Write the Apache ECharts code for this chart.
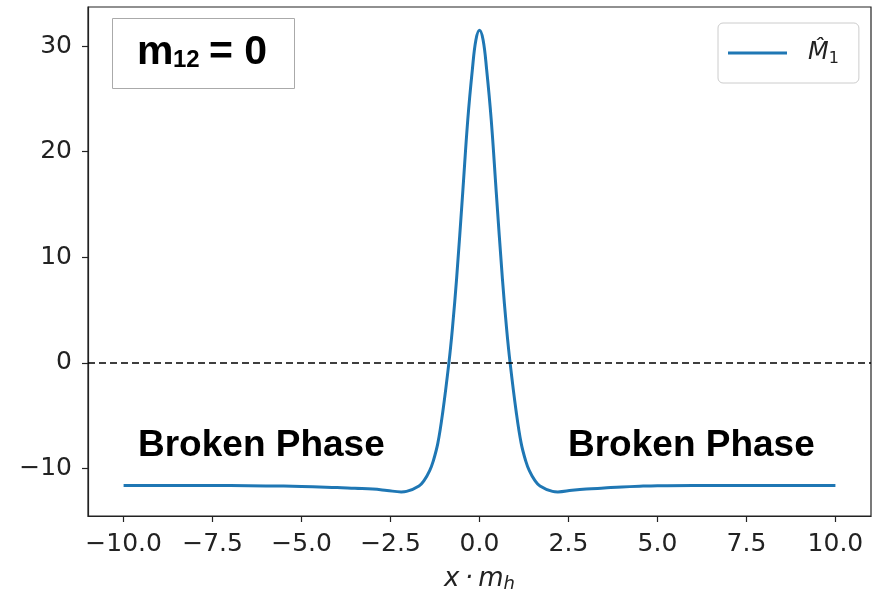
<!DOCTYPE html>
<html>
<head>
<meta charset="utf-8">
<script src="https://cdn.jsdelivr.net/npm/echarts@6/dist/echarts.min.js"></script>
<style>
  html, body { margin: 0; padding: 0; background: #fff; }
  #main { width: 873px; height: 590px; }
</style>
</head>
<body>
<div id="main"></div>
<script>
// 数据
var xVals = [-10, -8, -6, -5, -4.5, -4, -3.5, -3, -2.6, -2.2, -2.05, -1.7, -1.55, -1.4, -1.3, -1.17, -1.03, -0.86, -0.76, -0.645, -0.47, -0.33, -0.2, -0.1, 0,
    0.1, 0.2, 0.33, 0.47, 0.645, 0.76, 0.86, 1.03, 1.17, 1.3, 1.4, 1.55, 1.7, 2.05, 2.2, 2.6, 3, 3.5, 4, 4.5, 5, 6, 8, 10];
var m1Vals = [-11.6, -11.6, -11.65, -11.7, -11.75, -11.8, -11.88, -11.95, -12.08, -12.22, -12.17, -11.65, -11.1, -10.2, -9.3, -7.6, -4.6, 0, 3.3, 7.9, 16.2, 23.0, 27.8, 30.6, 31.5,
    30.6, 27.8, 23.0, 16.2, 7.9, 3.3, 0, -4.6, -7.6, -9.3, -10.2, -11.1, -11.65, -12.17, -12.22, -12.07, -11.95, -11.85, -11.75, -11.68, -11.63, -11.6, -11.6, -11.6];
var xTicks = [-10, -7.5, -5, -2.5, 0, 2.5, 5, 7.5, 10];
var yTicks = [-10, 0, 10, 20, 30];

var myChart = echarts.init(document.getElementById('main'));

var seriesData = [];
for (var i = 0; i < xVals.length; i++) {
    seriesData.push([xVals[i], m1Vals[i]]);
}

function minus(s) {
    return s.replace('-', '\u2212');
}

var tickFont = { fontFamily: 'DejaVu Sans', fontSize: 25, color: '#222' };

var option = {
    animation: false,
    backgroundColor: '#fff',
    grid: {
        left: 88, top: 7, width: 783, height: 509,
        outerBoundsMode: 'none',
        containLabel: false,
        show: true, borderColor: '#222', borderWidth: 1.2
    },
    legend: {
        left: 718, top: 23,
        padding: [16, 20, 16, 10],
        borderColor: '#ccc', borderWidth: 1, borderRadius: 5,
        backgroundColor: '#fff',
        icon: 'rect',
        itemWidth: 59, itemHeight: 3,
        data: ['M1'],
        formatter: function () {
            return '{m|M\u0302}{s|1}';
        },
        textStyle: {
            rich: {
                m: { fontFamily: 'DejaVu Sans', fontStyle: 'italic', fontSize: 24, color: '#222', lineHeight: 30, padding: [0, 0, 0, 16] },
                s: { fontFamily: 'DejaVu Sans', fontSize: 16, color: '#222', lineHeight: 30, padding: [12, 0, 0, 0] }
            }
        }
    },
    xAxis: {
        type: 'value', min: -11, max: 11,
        splitLine: { show: false },
        axisLine: { show: true, onZero: false, lineStyle: { color: '#222', width: 1.2 } },
        axisTick: { show: true, length: 6, customValues: xTicks, lineStyle: { color: '#222', width: 1.2 } },
        axisLabel: {
            customValues: xTicks, margin: 16,
            fontFamily: tickFont.fontFamily, fontSize: tickFont.fontSize, color: tickFont.color,
            formatter: function (v) { return minus(v.toFixed(1)); }
        },
        name: '{i|x\u2009\u00b7\u2009m}{s|h}',
        nameLocation: 'middle', nameGap: 48,
        nameTextStyle: {
            rich: {
                i: { fontFamily: 'DejaVu Sans', fontStyle: 'italic', fontSize: 26, color: '#222', lineHeight: 30 },
                s: { fontFamily: 'DejaVu Sans', fontStyle: 'italic', fontSize: 18, color: '#222', lineHeight: 30, padding: [10, 0, 0, 0] }
            }
        }
    },
    yAxis: {
        type: 'value', min: -14.5, max: 33.7,
        splitLine: { show: false },
        axisLine: { show: true, onZero: false, lineStyle: { color: '#222', width: 1.2 } },
        axisTick: { show: true, length: 6, customValues: yTicks, lineStyle: { color: '#222', width: 1.2 } },
        axisLabel: {
            customValues: yTicks, margin: 16,
            fontFamily: tickFont.fontFamily, fontSize: tickFont.fontSize, color: tickFont.color,
            formatter: function (v) { return minus(String(v)); }
        }
    },
    graphic: [
        {
            type: 'rect', z: 10,
            shape: { x: 112.5, y: 18.5, width: 182, height: 70 },
            style: { fill: '#fff', stroke: '#aaa', lineWidth: 1 }
        },
        {
            type: 'text', z: 11, x: 137, y: 53,
            style: { text: 'm', font: 'bold 41px "Liberation Sans"', fill: '#000', verticalAlign: 'middle' }
        },
        {
            type: 'text', z: 11, x: 173, y: 60,
            style: { text: '12', font: 'bold 24px "Liberation Sans"', fill: '#000', verticalAlign: 'middle' }
        },
        {
            type: 'text', z: 11, x: 209, y: 53,
            style: { text: '= 0', font: 'bold 41px "Liberation Sans"', fill: '#000', verticalAlign: 'middle' }
        },
        {
            type: 'text', z: 11, x: 138, y: 446,
            style: { text: 'Broken Phase', font: 'bold 37px "Liberation Sans"', fill: '#000', verticalAlign: 'middle' }
        },
        {
            type: 'text', z: 11, x: 568, y: 446,
            style: { text: 'Broken Phase', font: 'bold 37px "Liberation Sans"', fill: '#000', verticalAlign: 'middle' }
        }
    ],
    series: [
        {
            name: 'M1',
            type: 'line',
            data: seriesData,
            smooth: 0.4,
            showSymbol: false,
            lineStyle: { color: '#1f77b4', width: 3 },
            itemStyle: { color: '#1f77b4' },
            markLine: {
                silent: true,
                symbol: ['none', 'none'],
                label: { show: false },
                lineStyle: { color: '#000', type: [7, 4], width: 1.5 },
                data: [{ yAxis: 0 }]
            }
        }
    ]
};

myChart.setOption(option);
</script>
</body>
</html>
